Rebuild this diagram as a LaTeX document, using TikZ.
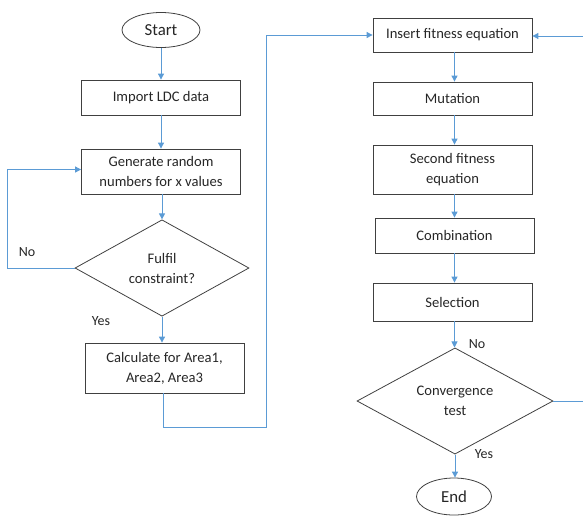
\documentclass[tikz,border=0pt]{standalone}
\usepackage{fontspec}
\setmainfont{Carlito}
\usetikzlibrary{shapes.geometric,arrows.meta}
\definecolor{arrblue}{HTML}{5B9BD5}
\definecolor{boxgray}{HTML}{404040}
\begin{document}
\begin{tikzpicture}[x=1pt,y=-1pt,
  every node/.style={font=\fontsize{14.6pt}{20pt}\selectfont, text=black!85},
  procbox/.style={draw=boxgray, line width=0.8pt, minimum width=159pt, align=center, inner sep=2pt},
  decide/.style={draw=boxgray, line width=0.8pt, diamond, align=center, inner sep=0pt},
  term/.style={draw=boxgray, line width=0.8pt, ellipse, inner sep=0pt, font=\fontsize{16.8pt}{20pt}\selectfont},
  arr/.style={draw=arrblue, line width=0.9pt, -{Triangle[width=6pt,length=6pt]}},
  plain/.style={draw=arrblue, line width=0.9pt},
  lbl/.style={font=\fontsize{14pt}{16pt}\selectfont}]
\useasboundingbox (0,0) rectangle (583,515);
% left column
\node[term, minimum width=78pt, minimum height=35pt] (start) at (161,30) {Start};
\node[procbox, minimum height=35pt] (import) at (161,97.5) {Import LDC data};
\node[procbox, minimum height=45pt] (gen) at (161,171.5) {Generate random\\numbers for x values};
\node[decide, minimum width=174pt, minimum height=90pt] (fulfil) at (162,268) {Fulfil\\constraint?};
\node[procbox, minimum height=50pt] (calc) at (164.5,368) {Calculate for Area1,\\Area2, Area3};
% right column
\node[procbox, minimum height=34pt] (insert) at (452.5,35) {Insert fitness equation};
\node[procbox, minimum height=33pt] (mut) at (452.5,98.5) {Mutation};
\node[procbox, minimum height=49pt] (second) at (452.5,169.5) {Second fitness\\equation};
\node[procbox, minimum height=35pt] (comb) at (454.5,235.5) {Combination};
\node[procbox, minimum height=38pt] (sel) at (452.5,302) {Selection};
\node[decide, minimum width=196pt, minimum height=90pt] (conv) at (455,401) {Convergence\\test};
\node[term, minimum width=75pt, minimum height=37pt] (end) at (454,496.5) {End};
% labels
\node[lbl] (no1) at (27,252) {No};
\node[lbl] (yes1) at (101,321) {Yes};
\node[lbl] (no2) at (477,344) {No};
\node[lbl] (yes2) at (484,454) {Yes};
% coordinates
\coordinate (c1) at (266,427);
\coordinate (c2) at (266,35);
\coordinate (rin) at (583,36);
\coordinate (rout) at (583,401);
% connectors left
\draw[arr] (start) -- (import);
\draw[arr] (import) -- (gen);
\draw[arr] (gen.south -| fulfil.north) -- (fulfil.north);
\draw[arr] (fulfil.west) -- ++(-67,0) |- ([yshift=2pt]gen.west);
\draw[arr] (fulfil.south) -- (fulfil.south |- calc.north);
\draw[arr] ([xshift=-1.5pt]calc.south) |- (c1) -- (c2) -- (insert.west);
% connectors right
\draw[arr] (rin) -- (insert.east |- rin);
\draw[arr] ([xshift=2pt]insert.south) -- ([xshift=2pt]mut.north);
\draw[arr] ([xshift=2pt]mut.south) -- ([xshift=2pt]second.north);
\draw[arr] ([xshift=2pt]second.south) -- ([xshift=2pt]second.south |- comb.north);
\draw[arr] (comb.south) -- ([xshift=2pt]sel.north);
\draw[arr] ([xshift=2pt]sel.south) -- ([xshift=2pt]sel.south |- conv.north);
\draw[plain] (conv.east) -- (rout);
\draw[arr] (conv.south) -- (conv.south |- end.north);
\end{tikzpicture}
\end{document}
